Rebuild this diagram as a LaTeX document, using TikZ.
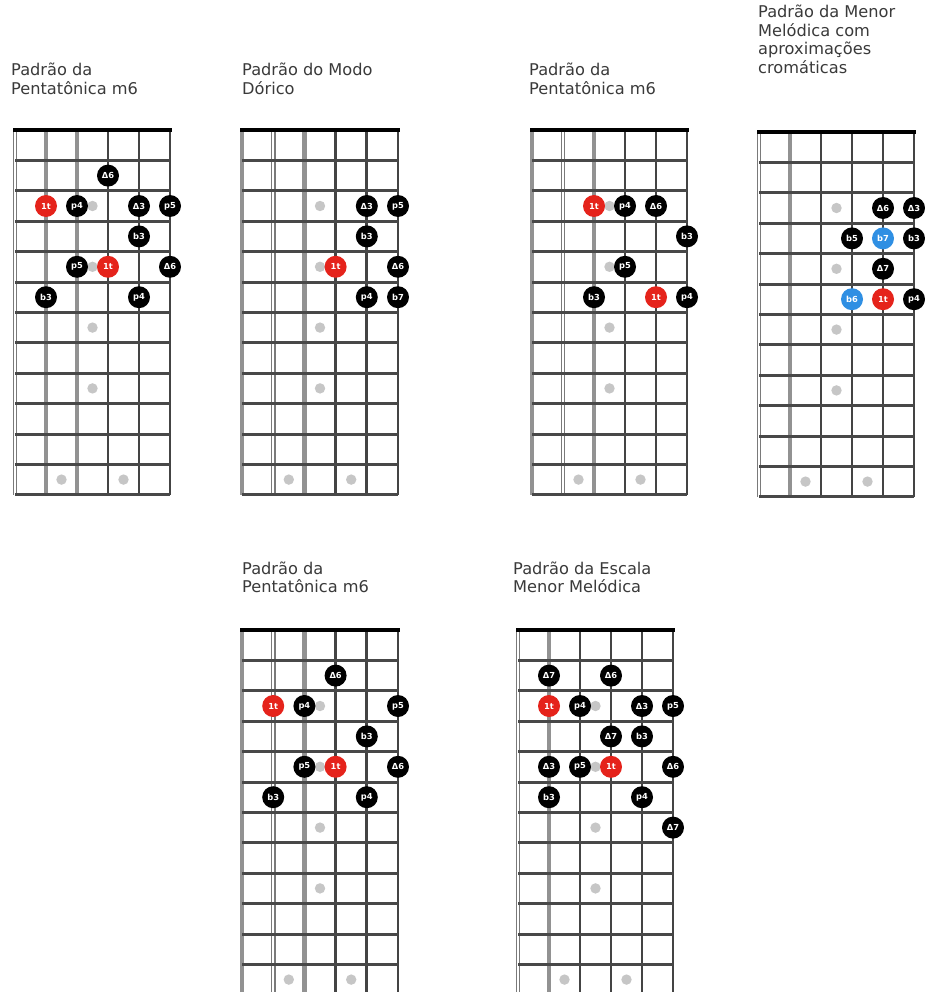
\documentclass[tikz,border=0pt]{standalone}
\usepackage{fontspec}
\setmainfont{DejaVu Sans}
\definecolor{notered}{HTML}{E5231B}
\definecolor{noteblue}{HTML}{2F8FE3}
\definecolor{fretc}{HTML}{484848}
\definecolor{strdark}{HTML}{444444}
\definecolor{strlight}{HTML}{929292}
\definecolor{dblc}{HTML}{7A7A7A}
\definecolor{markc}{HTML}{C6C6C6}
\definecolor{titlec}{HTML}{3A3A3A}
\tikzset{
  note/.style={circle, fill=black, inner sep=0pt, minimum size=22pt, text=white,
    font=\fontsize{8.3}{9}\selectfont\bfseries},
  rootnote/.style={note, fill=notered},
  chromnote/.style={note, fill=noteblue},
  fretline/.style={draw=fretc, line width=3pt},
  nutline/.style={draw=black, line width=4.2pt},
  darkstring/.style={draw=strdark, line width=2.7pt},
  graystring/.style={draw=strlight, line width=4.6pt},
  dblouter/.style={draw=dblc, line width=4.8pt},
  dblinner/.style={draw=white, line width=1.6pt},
  titletext/.style={anchor=base west, inner sep=0pt, text=titlec,
    font=\fontsize{16.2}{18.5}\selectfont},
}
\newcommand\fbLen{364.8}
% one string: #1 = kind (d dark, g gray, w double), #2 = index 0..5
\newcommand\fbString[2]{%
  \if#1d\draw[darkstring] ({#2*\fbStep},0) -- ({#2*\fbStep},\fbLen);\fi
  \if#1g\draw[graystring] ({#2*\fbStep},0) -- ({#2*\fbStep},\fbLen);\fi
  \if#1w\draw[dblouter] ({#2*\fbStep},0) -- ({#2*\fbStep},\fbLen);
        \draw[dblinner] ({#2*\fbStep},0) -- ({#2*\fbStep},\fbLen);\fi}
% board: x0, string step, nut y, string kinds, then notes
\newcommand\fbBoard[4]{\def\fbXo{#1}\def\fbStep{#2}\def\fbNut{#3}\def\fbKinds{#4}\fbBoardB}
\newcommand\fbBoardB[1]{%
  \begin{scope}[shift={(\fbXo,\fbNut)}]
    \expandafter\fbDoStrings\fbKinds
    \foreach \r in {1,...,12}{\draw[fretline] (0,{\r*30.4}) -- ({5*\fbStep},{\r*30.4});}
    \draw[nutline] (-2,0) -- ({5*\fbStep+2},0);
    \foreach \r in {3,5,7,9}{\fill[markc] ({2.5*\fbStep},{(\r-0.5)*30.4}) circle (5.2pt);}
    \fill[markc] ({1.5*\fbStep},{11.5*30.4}) circle (5.2pt);
    \fill[markc] ({3.5*\fbStep},{11.5*30.4}) circle (5.2pt);
    #1
  \end{scope}}
\newcommand\fbDoStrings[6]{\fbString{#1}{0}\fbString{#2}{1}\fbString{#3}{2}%
  \fbString{#4}{3}\fbString{#5}{4}\fbString{#6}{5}}
% note: #1 style, #2 name, #3 string 1..6, #4 row, #5 label
\newcommand\nt[5]{\node[#1] (#2) at ({(#3-1)*\fbStep},{(#4-0.5)*30.4}) {#5};}
\begin{document}
\begin{tikzpicture}[x=1pt,y=-1pt]
\useasboundingbox (0,0) rectangle (925,992);
\clip (0,0) rectangle (925,992);
\fill[white] (0,0) rectangle (925,992);

% titles
\node[titletext] (t1a) at (11,76) {Padrão da};
\node[titletext] (t1b) at (11,94.5) {Pentatônica m6};
\node[titletext] (t2a) at (242,76) {Padrão do Modo};
\node[titletext] (t2b) at (242,94.5) {Dórico};
\node[titletext] (t3a) at (529,76) {Padrão da};
\node[titletext] (t3b) at (529,94.5) {Pentatônica m6};
\node[titletext] (t4a) at (758,18) {Padrão da Menor};
\node[titletext] (t4b) at (758,36.5) {Melódica com};
\node[titletext] (t4c) at (758,55) {aproximações};
\node[titletext] (t4d) at (758,73.5) {cromáticas};
\node[titletext] (t5a) at (242,574) {Padrão da};
\node[titletext] (t5b) at (242,592.5) {Pentatônica m6};
\node[titletext] (t6a) at (513,574) {Padrão da Escala};
\node[titletext] (t6b) at (513,592.5) {Menor Melódica};

% diagram 1
\fbBoard{15}{31}{130}{wggddd}{%
  \nt{note}{a1}{4}{2}{Δ6}
  \nt{rootnote}{a2}{2}{3}{1t}
  \nt{note}{a3}{3}{3}{p4}
  \nt{note}{a4}{5}{3}{Δ3}
  \nt{note}{a5}{6}{3}{p5}
  \nt{note}{a6}{5}{4}{b3}
  \nt{note}{a7}{3}{5}{p5}
  \nt{rootnote}{a8}{4}{5}{1t}
  \nt{note}{a9}{6}{5}{Δ6}
  \nt{note}{a10}{2}{6}{b3}
  \nt{note}{a11}{5}{6}{p4}
}
% diagram 2
\fbBoard{242}{31.2}{130}{gwgddd}{%
  \nt{note}{b1}{5}{3}{Δ3}
  \nt{note}{b2}{6}{3}{p5}
  \nt{note}{b3}{5}{4}{b3}
  \nt{rootnote}{b4}{4}{5}{1t}
  \nt{note}{b5}{6}{5}{Δ6}
  \nt{note}{b6}{5}{6}{p4}
  \nt{note}{b7}{6}{6}{b7}
}
% diagram 3
\fbBoard{532}{31}{130}{gwgddd}{%
  \nt{rootnote}{c1}{3}{3}{1t}
  \nt{note}{c2}{4}{3}{p4}
  \nt{note}{c3}{5}{3}{Δ6}
  \nt{note}{c4}{6}{4}{b3}
  \nt{note}{c5}{4}{5}{p5}
  \nt{note}{c6}{3}{6}{b3}
  \nt{rootnote}{c7}{5}{6}{1t}
  \nt{note}{c8}{6}{6}{p4}
}
% diagram 4
\fbBoard{759}{31}{132}{wgdddd}{%
  \nt{note}{d1}{5}{3}{Δ6}
  \nt{note}{d2}{6}{3}{Δ3}
  \nt{note}{d3}{4}{4}{b5}
  \nt{chromnote}{d4}{5}{4}{b7}
  \nt{note}{d5}{6}{4}{b3}
  \nt{note}{d6}{5}{5}{Δ7}
  \nt{chromnote}{d7}{4}{6}{b6}
  \nt{rootnote}{d8}{5}{6}{1t}
  \nt{note}{d9}{6}{6}{p4}
}
% diagram 5
\fbBoard{242}{31.2}{630}{gwgddd}{%
  \nt{note}{e1}{4}{2}{Δ6}
  \nt{rootnote}{e2}{2}{3}{1t}
  \nt{note}{e3}{3}{3}{p4}
  \nt{note}{e4}{6}{3}{p5}
  \nt{note}{e5}{5}{4}{b3}
  \nt{note}{e6}{3}{5}{p5}
  \nt{rootnote}{e7}{4}{5}{1t}
  \nt{note}{e8}{6}{5}{Δ6}
  \nt{note}{e9}{2}{6}{b3}
  \nt{note}{e10}{5}{6}{p4}
}
% diagram 6
\fbBoard{518}{31}{630}{wgdddd}{%
  \nt{note}{f1}{2}{2}{Δ7}
  \nt{note}{f2}{4}{2}{Δ6}
  \nt{rootnote}{f3}{2}{3}{1t}
  \nt{note}{f4}{3}{3}{p4}
  \nt{note}{f5}{5}{3}{Δ3}
  \nt{note}{f6}{6}{3}{p5}
  \nt{note}{f7}{4}{4}{Δ7}
  \nt{note}{f8}{5}{4}{b3}
  \nt{note}{f9}{2}{5}{Δ3}
  \nt{note}{f10}{3}{5}{p5}
  \nt{rootnote}{f11}{4}{5}{1t}
  \nt{note}{f12}{6}{5}{Δ6}
  \nt{note}{f13}{2}{6}{b3}
  \nt{note}{f14}{5}{6}{p4}
  \nt{note}{f15}{6}{7}{Δ7}
}
\end{tikzpicture}
\end{document}
